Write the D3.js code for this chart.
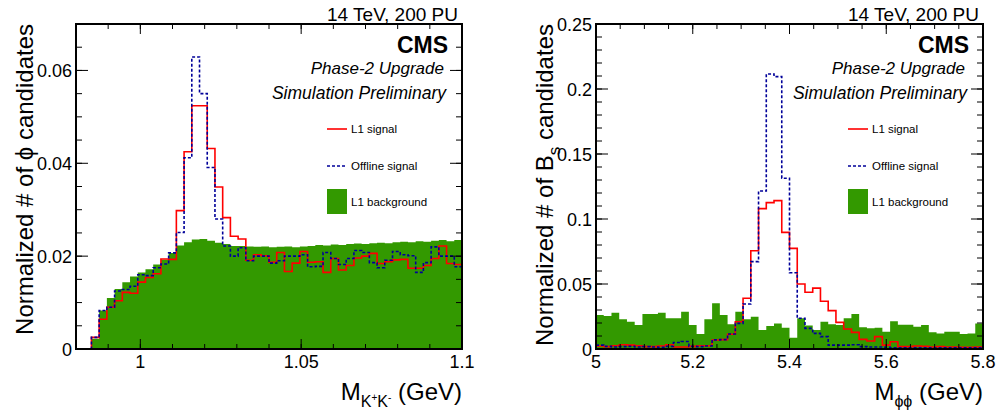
<!DOCTYPE html>
<html lang="en">
<head>
<meta charset="UTF-8" />
<title>L1 phi and Bs mass</title>
<script src="https://d3js.org/d3.v7.min.js"></script>
<style>
  body { margin: 0; background: #fff; }
  svg text { font-family: "Liberation Sans", Arial, sans-serif; fill: #000; }
</style>
</head>
<body>
<div id="chart"></div>
<script>
// histogram contents, 50 bins each

// left: M(K+K-), 0.98 - 1.1 GeV
var leftBkg = [0, 0, 0.0022, 0.0083, 0.0110, 0.0129, 0.0144, 0.0156, 0.0165, 0.0172,
  0.0182, 0.0192, 0.0207, 0.0223, 0.0230, 0.0236, 0.0237, 0.0233, 0.0229, 0.0226,
  0.0222, 0.0222, 0.0221, 0.0220, 0.0221, 0.0219, 0.0220, 0.0221, 0.0219, 0.0221,
  0.0222, 0.0224, 0.0223, 0.0225, 0.0224, 0.0226, 0.0227, 0.0226, 0.0228, 0.0229,
  0.0228, 0.0230, 0.0231, 0.0230, 0.0232, 0.0231, 0.0233, 0.0235, 0.0232, 0.0235]
var leftL1 = [0, 0, 0.0025, 0.0064, 0.0090, 0.0104, 0.0122, 0.0120, 0.0144, 0.0154,
  0.0162, 0.0194, 0.0193, 0.0298, 0.0425, 0.0524, 0.0524, 0.0432, 0.0349, 0.0283,
  0.0243, 0.0237, 0.0191, 0.0203, 0.0201, 0.0187, 0.0208, 0.0167, 0.0185, 0.0210,
  0.0187, 0.0188, 0.0165, 0.0195, 0.0170, 0.0180, 0.0196, 0.0200, 0.0206, 0.0184,
  0.0188, 0.0192, 0.0193, 0.0174, 0.0174, 0.0180, 0.0195, 0.0222, 0.0184, 0.0182]
var leftOff = [0, 0, 0.0025, 0.0083, 0.0090, 0.0125, 0.0128, 0.0135, 0.0160, 0.0158,
  0.0175, 0.0183, 0.0207, 0.0251, 0.0412, 0.0629, 0.0550, 0.0391, 0.0280, 0.0222,
  0.0200, 0.0218, 0.0190, 0.0200, 0.0200, 0.0185, 0.0190, 0.0200, 0.0200, 0.0203,
  0.0177, 0.0178, 0.0208, 0.0195, 0.0182, 0.0195, 0.0212, 0.0208, 0.0186, 0.0175,
  0.0191, 0.0210, 0.0203, 0.0201, 0.0165, 0.0186, 0.0220, 0.0200, 0.0200, 0.0177]

// right: M(phi phi), 5.0 - 5.8 GeV
var rightBkg = [0.0262, 0.0254, 0.0279, 0.0228, 0.0210, 0.0185, 0.0269, 0.0269, 0.0279, 0.0236,
  0.0236, 0.0287, 0.0185, 0.0115, 0.0228, 0.0351, 0.0262, 0.0190, 0.0287, 0.0228,
  0.0249, 0.0146, 0.0177, 0.0197, 0.0164, 0.0087, 0.0236, 0.0180, 0.0146, 0.0210,
  0.0190, 0.0185, 0.0236, 0.0269, 0.0167, 0.0159, 0.0164, 0.0133, 0.0213, 0.0187,
  0.0187, 0.0172, 0.0185, 0.0128, 0.0120, 0.0133, 0.0133, 0.0115, 0.0120, 0.0197]
var rightL1 = [0.0023, 0.0018, 0.0025, 0.0033, 0.0030, 0.0025, 0.0018, 0.0018, 0.0023, 0.0033,
  0.0015, 0.0015, 0.0020, 0.0025, 0.0025, 0.0069, 0.0072, 0.0113, 0.0210, 0.0390,
  0.0756, 0.1080, 0.1126, 0.1141, 0.0897, 0.0774, 0.0500, 0.0437, 0.0468, 0.0367,
  0.0295, 0.0205, 0.0154, 0.0128, 0.0074, 0.0062, 0.0095, 0.0030, 0.0056, 0.0018,
  0.0018, 0.0023, 0.0020, 0.0015, 0.0018, 0.0015, 0.0015, 0.0013, 0.0013, 0.0015]
var rightOff = [0.0030, 0.0020, 0.0015, 0.0018, 0.0020, 0.0015, 0.0018, 0.0015, 0.0013, 0.0020,
  0.0050, 0.0058, 0.0020, 0.0018, 0.0023, 0.0070, 0.0072, 0.0115, 0.0197, 0.0346,
  0.0672, 0.1215, 0.2115, 0.2095, 0.1313, 0.0587, 0.0236, 0.0159, 0.0120, 0.0095,
  0.0030, 0.0030, 0.0030, 0.0033, 0.0018, 0.0015, 0.0015, 0.0013, 0.0010, 0.0010,
  0.0010, 0.0010, 0.0010, 0.0010, 0.0010, 0.0010, 0.0010, 0.0010, 0.0010, 0.0010]

// axis ticks
var leftXTicks = [1, 1.05, 1.1]
var leftXLabels = ["1", "1.05", "1.1"]
var leftYTicks = [0, 0.02, 0.04, 0.06]
var leftYLabels = ["0", "0.02", "0.04", "0.06"]
var rightXTicks = [5, 5.2, 5.4, 5.6, 5.8]
var rightXLabels = ["5", "5.2", "5.4", "5.6", "5.8"]
var rightYTicks = [0, 0.05, 0.1, 0.15, 0.2, 0.25]
var rightYLabels = ["0", "0.05", "0.1", "0.15", "0.2", "0.25"]

var legendNames = ["L1 signal", "Offline signal", "L1 background"]

var green = "#339900", red = "#ff0000", blue = "#000099"

var svg = d3.select("#chart").append("svg")
  .attr("width", 1000)
  .attr("height", 412)

function drawPanel(p, id) {
  var x = d3.scaleLinear().domain(p.xdom).range([p.left, p.right])
  var y = d3.scaleLinear().domain(p.ydom).range([p.bottom, p.top])
  var n = p.bkg.length
  var w = (p.xdom[1] - p.xdom[0]) / n
  var edges = d3.range(n + 1).map(function(i) { return p.xdom[0] + i * w })

  function steps(vals) {
    var pts = vals.map(function(v, i) { return [edges[i], v] })
    pts.push([edges[n], vals[n - 1]])
    return pts
  }

  var g = svg.append("g")

  g.append("clipPath").attr("id", "clip" + id)
    .append("rect")
      .attr("x", p.left).attr("y", p.top)
      .attr("width", p.right - p.left).attr("height", p.bottom - p.top)

  var plot = g.append("g").attr("clip-path", "url(#clip" + id + ")")

  var area = d3.area().curve(d3.curveStepAfter)
    .x(function(d) { return x(d[0]) })
    .y0(y(0))
    .y1(function(d) { return y(d[1]) })
  var line = d3.line().curve(d3.curveStepAfter)
    .x(function(d) { return x(d[0]) })
    .y(function(d) { return y(d[1]) })

  plot.append("path").attr("d", area(steps(p.bkg)))
    .attr("fill", green)
  plot.append("path").attr("d", line(steps(p.l1)))
    .attr("fill", "none").attr("stroke", red).attr("stroke-width", 1.6)
  plot.append("path").attr("d", line(steps(p.off)))
    .attr("fill", "none").attr("stroke", blue).attr("stroke-width", 1.6)
    .attr("stroke-dasharray", "3,2")

  // ticks on all four sides, pointing in
  var ticks = g.append("g").attr("stroke", "#000").attr("stroke-width", 1)
  function xTick(v, len) {
    ticks.append("line").attr("x1", x(v)).attr("x2", x(v)).attr("y1", p.bottom).attr("y2", p.bottom - len)
    ticks.append("line").attr("x1", x(v)).attr("x2", x(v)).attr("y1", p.top).attr("y2", p.top + len)
  }
  function yTick(v, len) {
    ticks.append("line").attr("y1", y(v)).attr("y2", y(v)).attr("x1", p.left).attr("x2", p.left + len)
    ticks.append("line").attr("y1", y(v)).attr("y2", y(v)).attr("x1", p.right).attr("x2", p.right - len)
  }
  d3.range(p.xdom[0], p.xdom[1] + 1e-9, p.xminor).forEach(function(v) { xTick(v, 5) })
  p.xticks.forEach(function(v) { xTick(v, 10) })
  d3.range(p.ydom[0], p.ydom[1] + 1e-9, p.yminor).forEach(function(v) { yTick(v, 6) })
  p.yticks.forEach(function(v) { yTick(v, 12) })

  g.append("rect")
    .attr("x", p.left).attr("y", p.top)
    .attr("width", p.right - p.left).attr("height", p.bottom - p.top)
    .attr("fill", "none").attr("stroke", "#000").attr("stroke-width", 2)

  // tick labels
  g.selectAll(".xl").data(p.xticks).enter().append("text")
    .attr("x", function(d) { return x(d) })
    .attr("y", 368)
    .attr("text-anchor", "middle")
    .style("font-size", "18px")
    .text(function(d, i) { return p.xlabels[i] })
  g.selectAll(".yl").data(p.yticks).enter().append("text")
    .attr("x", p.left - 4)
    .attr("y", function(d) { return y(d) + 6.5 })
    .attr("text-anchor", "end")
    .style("font-size", "18px")
    .text(function(d, i) { return p.ylabels[i] })

  // header texts
  g.append("text").attr("x", p.right - 4).attr("y", 21)
    .attr("text-anchor", "end").style("font-size", "19px")
    .text("14 TeV, 200 PU")
  g.append("text").attr("x", p.right - 14).attr("y", 53)
    .attr("text-anchor", "end").style("font-size", "23px").style("font-weight", "bold")
    .text("CMS")
  g.append("text").attr("x", p.right - 18).attr("y", 74)
    .attr("text-anchor", "end").style("font-size", "17px").style("font-style", "italic")
    .text("Phase-2 Upgrade")
  g.append("text").attr("x", p.right - 16).attr("y", 99)
    .attr("text-anchor", "end").style("font-size", "17.5px").style("font-style", "italic")
    .text("Simulation Preliminary")

  // legend
  var lx = p.right - 135
  var leg = g.append("g")
  leg.append("line").attr("x1", lx).attr("x2", lx + 20).attr("y1", 129).attr("y2", 129)
    .attr("stroke", red).attr("stroke-width", 1.6)
  leg.append("line").attr("x1", lx).attr("x2", lx + 20).attr("y1", 166).attr("y2", 166)
    .attr("stroke", blue).attr("stroke-width", 1.6).attr("stroke-dasharray", "3,2")
  leg.append("rect").attr("x", lx).attr("y", 189).attr("width", 20).attr("height", 25)
    .attr("fill", green)
  leg.selectAll("text").data(legendNames).enter().append("text")
    .attr("x", lx + 24)
    .attr("y", function(d, i) { return [133, 170, 206][i] })
    .style("font-size", "11.5px")
    .text(function(d) { return d })

  // axis titles
  var yt = g.append("text")
    .attr("transform", "translate(" + p.ytitleX + "," + p.top + ") rotate(-90)")
    .attr("text-anchor", "end")
    .style("font-size", "24px")
  p.ytitle(yt)

  var xt = g.append("text")
    .attr("x", p.right).attr("y", 400)
    .attr("text-anchor", "end")
    .style("font-size", "24px")
  p.xtitle(xt)
}

drawPanel({
  left: 76, right: 462, top: 24, bottom: 349,
  xdom: [0.98, 1.1], ydom: [0, 0.07],
  xminor: 0.01, yminor: 0.005,
  xticks: leftXTicks, xlabels: leftXLabels,
  yticks: leftYTicks, ylabels: leftYLabels,
  bkg: leftBkg, l1: leftL1, off: leftOff,
  ytitleX: 33,
  ytitle: function(t) { t.text("Normalized # of \u03d5 candidates") },
  xtitle: function(t) {
    t.append("tspan").text("M")
    t.append("tspan").attr("dy", 7).style("font-size", "16px").text("K")
    t.append("tspan").attr("dy", -6).style("font-size", "10px").text("+")
    t.append("tspan").attr("dy", 6).style("font-size", "16px").text("K")
    t.append("tspan").attr("dy", -6).style("font-size", "10px").text("-")
    t.append("tspan").attr("dy", -1).text(" (GeV)")
  }
}, "L")

drawPanel({
  left: 596, right: 983, top: 24, bottom: 349,
  xdom: [5, 5.8], ydom: [0, 0.25],
  xminor: 0.05, yminor: 0.01,
  xticks: rightXTicks, xlabels: rightXLabels,
  yticks: rightYTicks, ylabels: rightYLabels,
  bkg: rightBkg, l1: rightL1, off: rightOff,
  ytitleX: 553,
  ytitle: function(t) {
    t.append("tspan").text("Normalized # of B")
    t.append("tspan").attr("dy", 7).style("font-size", "17px").text("s")
    t.append("tspan").attr("dy", -7).text(" candidates")
  },
  xtitle: function(t) {
    t.append("tspan").text("M")
    t.append("tspan").attr("dy", 7).style("font-size", "16px").text("\u03d5\u03d5")
    t.append("tspan").attr("dy", -7).text(" (GeV)")
  }
}, "R")
</script>
</body>
</html>
